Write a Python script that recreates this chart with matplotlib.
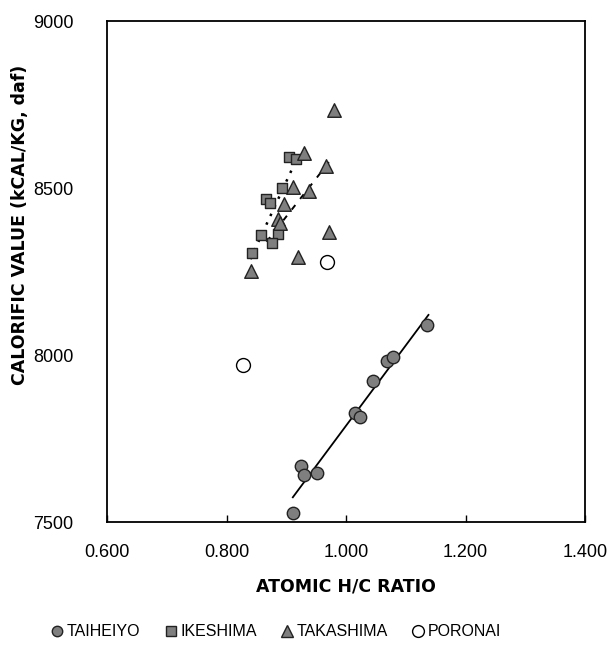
import matplotlib
matplotlib.use("Agg")
import matplotlib.pyplot as plt
from matplotlib.lines import Line2D

# ---- data ----
taiheiyo_x = [1.136, 1.068, 1.078, 1.045, 1.015, 1.023, 0.924, 0.930, 0.951, 0.911]
taiheiyo_y = [8090, 7982, 7995, 7922, 7827, 7815, 7668, 7641, 7646, 7526]

ikeshima_x = [0.905, 0.917, 0.893, 0.866, 0.873, 0.857, 0.887, 0.876, 0.842]
ikeshima_y = [8592, 8586, 8501, 8466, 8454, 8359, 8361, 8334, 8304]

takashima_x = [0.980, 0.929, 0.966, 0.911, 0.938, 0.897, 0.886, 0.890, 0.972, 0.920, 0.841]
takashima_y = [8733, 8606, 8567, 8502, 8492, 8451, 8407, 8396, 8369, 8294, 8251]

poronai_x = [0.828, 0.968]
poronai_y = [7970, 8278]

# trend lines (end points)
taiheiyo_trend_x = [0.911, 1.138]
taiheiyo_trend_y = [7574, 8120]
ikeshima_trend_x = [0.840, 0.909]
ikeshima_trend_y = [8287, 8554]
takashima_trend_x = [0.867, 0.973]
takashima_trend_y = [8339, 8581]

x_ticks = [0.6, 0.8, 1.0, 1.2, 1.4]
x_tick_labels = ["0.600", "0.800", "1.000", "1.200", "1.400"]
y_ticks = [7500, 8000, 8500, 9000]
y_tick_labels = ["7500", "8000", "8500", "9000"]

series_names = ["TAIHEIYO", "IKESHIMA", "TAKASHIMA", "PORONAI"]

# ---- figure ----
plt.rcParams['font.family'] = ['Liberation Sans', 'DejaVu Sans']
fig = plt.figure(figsize=(6.12, 6.5), dpi=100)
ax = fig.add_axes([107/612, 1-522/650, (585-107)/612, (522-21)/650])

gray = '#7f7f7f'
edge = '#222222'

ax.plot(taiheiyo_trend_x, taiheiyo_trend_y, color='black', lw=1.3, zorder=2)
ax.plot(ikeshima_trend_x, ikeshima_trend_y, color='black', lw=1.8, ls=(0, (1.0, 2.8)), zorder=2)
ax.plot(takashima_trend_x, takashima_trend_y, color='black', lw=1.4, ls=(0, (3, 4)), zorder=2)

ax.scatter(taiheiyo_x, taiheiyo_y, s=80, marker='o', facecolor=gray, edgecolor=edge, lw=1.0, zorder=3)
ax.scatter(ikeshima_x, ikeshima_y, s=60, marker='s', facecolor=gray, edgecolor=edge, lw=1.0, zorder=3)
ax.scatter(takashima_x, takashima_y, s=95, marker='^', facecolor=gray, edgecolor=edge, lw=1.0, zorder=3)
ax.scatter(poronai_x, poronai_y, s=100, marker='o', facecolor='white', edgecolor='black', lw=1.0, zorder=3)

ax.set_xlim(0.6, 1.4)
ax.set_ylim(7500, 9000)
ax.set_xticks(x_ticks)
ax.set_xticklabels(x_tick_labels)
ax.set_yticks(y_ticks)
ax.set_yticklabels(y_tick_labels)
ax.tick_params(axis='both', direction='in', length=5, width=1, labelsize=13, pad=16)
ax.tick_params(axis='y', length=0, pad=24)
for s in ax.spines.values():
    s.set_linewidth(1.3)

ax.set_xlabel("ATOMIC H/C RATIO", fontsize=12.5, fontweight='bold',
              family=['DejaVu Sans'], labelpad=12)
fig.text(20/612, 1-225/650, "CALORIFIC VALUE (kCAL/KG, daf)", rotation=90,
         fontsize=12.5, fontweight='bold', family=['DejaVu Sans'],
         ha='center', va='center')

handles = [
    Line2D([], [], ls='none', marker='o', ms=7.5, mfc=gray, mec=edge),
    Line2D([], [], ls='none', marker='s', ms=6.5, mfc=gray, mec=edge),
    Line2D([], [], ls='none', marker='^', ms=8.5, mfc=gray, mec=edge),
    Line2D([], [], ls='none', marker='o', ms=8.5, mfc='white', mec='black'),
]
fig.legend(handles, series_names, loc='center', bbox_to_anchor=(0.45, 1-632/650),
           ncol=4, frameon=False, fontsize=11.5, handletextpad=0.1,
           columnspacing=1.4, handlelength=1.0)

fig.savefig("out.png", dpi=100)
